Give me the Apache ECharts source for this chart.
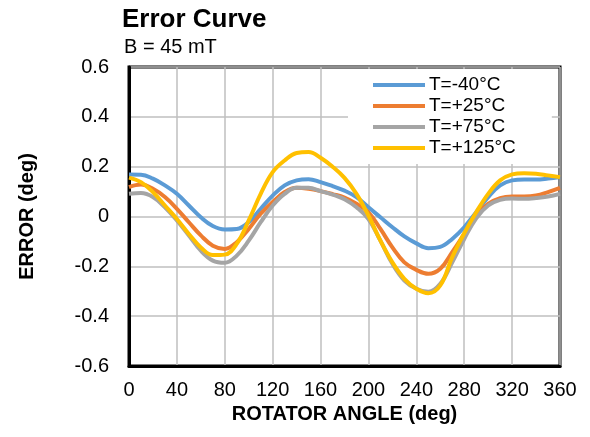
<!DOCTYPE html>
<html>
<head>
<meta charset="utf-8">
<script src="https://cdn.jsdelivr.net/npm/echarts@6/dist/echarts.min.js"></script>
<style>
  html, body { margin: 0; padding: 0; background: #fff; }
  #chart { width: 590px; height: 437px; }
</style>
</head>
<body>
<div id="chart"></div>
<script>
// angles, every 10 deg
const angles = [0,10,20,30,40,50,60,70,80,90,100,110,120,130,140,150,160,170,180,
  190,200,210,220,230,240,250,260,270,280,290,300,310,320,330,340,350,360]
const seriesNames = ['T=-40°C', 'T=+25°C', 'T=+75°C', 'T=+125°C']
const tMinus40 = [0.169,0.168,0.152,0.125,0.091,0.044,-0.003,-0.038,-0.052,-0.05,-0.023,0.031,0.084,0.125,0.145,0.15,0.138,0.122,0.104,
  0.078,0.037,-0.003,-0.043,-0.08,-0.108,-0.127,-0.122,-0.09,-0.043,0.017,0.078,0.125,0.145,0.148,0.148,0.152,0.158]
const tPlus25 = [0.118,0.128,0.111,0.078,0.031,-0.023,-0.076,-0.117,-0.13,-0.103,-0.05,0.011,0.058,0.098,0.115,0.111,0.102,0.09,0.076,
  0.051,0.017,-0.05,-0.124,-0.184,-0.214,-0.23,-0.21,-0.143,-0.07,0.004,0.051,0.074,0.08,0.08,0.084,0.098,0.115]
const tPlus75 = [0.091,0.094,0.078,0.037,-0.016,-0.076,-0.137,-0.177,-0.186,-0.157,-0.097,-0.023,0.044,0.091,0.115,0.115,0.102,0.088,0.069,
  0.037,-0.01,-0.097,-0.19,-0.257,-0.29,-0.302,-0.27,-0.184,-0.09,-0.007,0.044,0.067,0.072,0.071,0.074,0.08,0.091]
const tPlus125 = [0.156,0.138,0.098,0.044,-0.01,-0.07,-0.124,-0.155,-0.153,-0.11,-0.016,0.091,0.178,0.225,0.255,0.259,0.236,0.2,0.155,
  0.091,0.004,-0.097,-0.184,-0.25,-0.29,-0.308,-0.277,-0.163,-0.067,0.017,0.091,0.145,0.169,0.174,0.172,0.165,0.158]
const colors = ['#5B9BD5', '#ED7D31', '#A5A5A5', '#FFC000']

const allData = [tMinus40, tPlus25, tPlus75, tPlus125]
const font = 'Liberation Sans, Arial, sans-serif'

const myChart = echarts.init(document.getElementById('chart'))
myChart.setOption({
  animation: false,
  title: [
    { text: 'Error Curve', left: 122, top: 7, padding: 0,
      textStyle: { fontFamily: font, fontSize: 26, fontWeight: 'bold', color: '#000' } },
    { text: 'B = 45 mT', left: 124, top: 37, padding: 0,
      textStyle: { fontFamily: font, fontSize: 20, fontWeight: 'normal', color: '#000' } }
  ],
  legend: {
    orient: 'vertical',
    left: 348, top: 69,
    padding: [6, 36, 6, 25],
    backgroundColor: '#fff',
    itemWidth: 52, itemHeight: 4, itemGap: 1,
    icon: 'rect',
    textStyle: { fontFamily: font, fontSize: 19, lineHeight: 20, color: '#000', padding: [0, 0, 0, -1] },
    data: seriesNames
  },
  grid: {
    left: 129, right: 30, top: 67, bottom: 71,
    show: true, borderColor: '#000', borderWidth: 3
  },
  xAxis: {
    type: 'value', min: 0, max: 360, interval: 40,
    name: 'ROTATOR ANGLE (deg)', nameLocation: 'middle', nameGap: 35,
    nameTextStyle: { fontFamily: font, fontSize: 20, fontWeight: 'bold', color: '#000' },
    axisLine: { onZero: false, lineStyle: { color: '#000', width: 3 } },
    axisTick: { show: false },
    axisLabel: { fontFamily: font, fontSize: 20, color: '#000', margin: 14 },
    splitLine: { lineStyle: { color: '#BFBFBF', width: 1.5 } }
  },
  yAxis: {
    type: 'value', min: -0.6, max: 0.6, interval: 0.2,
    name: 'ERROR (deg)', nameLocation: 'middle', nameGap: 92, nameRotate: 90,
    nameTextStyle: { fontFamily: font, fontSize: 20, fontWeight: 'bold', color: '#000' },
    axisLine: { show: true, onZero: false, lineStyle: { color: '#000', width: 3 } },
    axisTick: { show: false },
    axisLabel: { fontFamily: font, fontSize: 20, color: '#000', margin: 20,
      formatter: v => (Math.abs(v) < 1e-9 ? '0' : v.toFixed(1)) },
    splitLine: { lineStyle: { color: '#BFBFBF', width: 1.5 } }
  },
  series: seriesNames.map((name, i) => ({
    name,
    type: 'line',
    smooth: 0.4,
    showSymbol: false,
    data: angles.map((a, j) => [a, allData[i][j]]),
    lineStyle: { color: colors[i], width: 4 },
    itemStyle: { color: colors[i] }
  }))
})
</script>
</body>
</html>
